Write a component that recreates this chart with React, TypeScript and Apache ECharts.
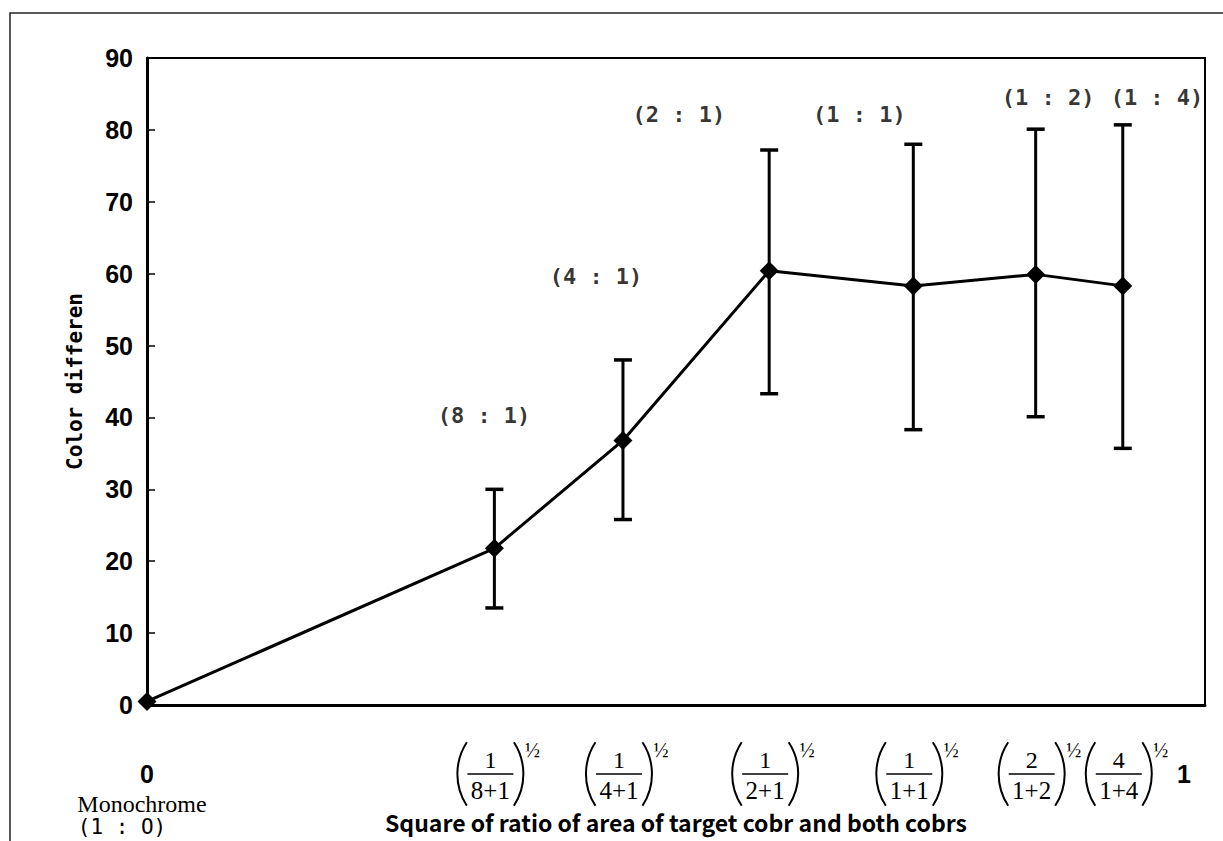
import React, { useEffect, useRef } from "react";
import * as echarts from "echarts";

// x positions (square root of area ratio)
const xValues = [0, 0.335, 0.459, 0.6, 0.739, 0.857, 0.941];
// mean colour difference
const meanValues = [0.5, 21.8, 36.8, 60.4, 58.3, 59.9, 58.3];
// error bar upper / lower ends (first point has none)
const upperValues = [null, 30.0, 48.0, 77.2, 78.0, 80.1, 80.7];
const lowerValues = [null, 13.5, 25.8, 43.3, 38.3, 40.1, 35.7];

// ratio annotations above the points
const ratioLabels = ["(8 : 1)", "(4 : 1)", "(2 : 1)", "(1 : 1)", "(1 : 2)", "(1 : 4)"];
const ratioLabelX = [0.325, 0.433, 0.513, 0.687, 0.869, 0.974];
const ratioLabelY = [40.3, 59.6, 82.1, 82.1, 84.5, 84.5];

// fraction tick labels under the points
const fracNumerators = ["1", "1", "1", "1", "2", "4"];
const fracDenominators = ["8+1", "4+1", "2+1", "1+1", "1+2", "1+4"];
const plainXTicks = [0, 1];
const plainXTickLabels = ["0", "1"];

const yMin = 0;
const yMax = 90;
const yInterval = 10;
const xMax = 1.0203;

const yTitle = "Color differen";
const xTitle = "Square of ratio of area of target cobr and both cobrs";
const monoLabel = "Monochrome";
const monoRatio = "(1 : O)";

export default function App() {
  const ref = useRef<HTMLDivElement>(null);

  useEffect(() => {
    if (!ref.current) return;
    const chart = echarts.init(ref.current, undefined, { renderer: "svg" });

    const lineData = xValues.map((x, i) => [x, meanValues[i]]);
    const errData: number[][] = [];
    xValues.forEach((x, i) => {
      if (upperValues[i] != null && lowerValues[i] != null) {
        errData.push([x, lowerValues[i] as number, upperValues[i] as number]);
      }
    });
    const labelData = ratioLabels.map((t, i) => ({
      name: t,
      value: [ratioLabelX[i], ratioLabelY[i]],
    }));

    const option: any = {
      animation: false,
      backgroundColor: "#fff",
      grid: {
        left: 147,
        right: 18,
        top: 58,
        bottom: 136,
        show: true,
        borderColor: "#000",
        borderWidth: 2,
        outerBoundsMode: "none",
        containLabel: false,
      },
      xAxis: {
        type: "value",
        min: 0,
        max: xMax,
        splitLine: { show: false },
        axisLine: { show: true, lineStyle: { color: "#000", width: 3 } },
        axisTick: { show: false },
        axisLabel: { show: false },
        name: xTitle,
        nameLocation: "middle",
        nameGap: 105,
        nameTextStyle: {
          fontFamily: "Noto Sans CJK JP",
          fontSize: 23,
          fontWeight: "bold",
          color: "#000",
          lineHeight: 24,
        },
      },
      yAxis: {
        type: "value",
        min: yMin,
        max: yMax,
        interval: yInterval,
        splitLine: { show: false },
        axisLine: { show: true, lineStyle: { color: "#000", width: 3 } },
        axisTick: { show: true, inside: true, length: 8, lineStyle: { color: "#000", width: 1.5 } },
        axisLabel: {
          fontFamily: "Liberation Sans",
          fontSize: 25,
          fontWeight: "bold",
          color: "#000",
          margin: 14,
        },
        name: yTitle,
        nameLocation: "middle",
        nameGap: 62,
        nameRotate: 90,
        nameTextStyle: {
          fontFamily: "DejaVu Sans Mono",
          fontSize: 21,
          fontWeight: "bold",
          color: "#000",
        },
      },
      series: [
        {
          type: "custom",
          z: 2,
          data: errData,
          encode: { x: 0, y: [1, 2] },
          renderItem: (params: any, api: any) => {
            const x = api.value(0);
            const lo = api.coord([x, api.value(1)]);
            const hi = api.coord([x, api.value(2)]);
            const w = 9;
            const st = { stroke: "#000", lineWidth: 3 };
            return {
              type: "group",
              children: [
                { type: "line", shape: { x1: lo[0], y1: lo[1], x2: hi[0], y2: hi[1] }, style: st },
                { type: "line", shape: { x1: lo[0] - w, y1: lo[1], x2: lo[0] + w, y2: lo[1] }, style: { stroke: "#000", lineWidth: 3.5 } },
                { type: "line", shape: { x1: hi[0] - w, y1: hi[1], x2: hi[0] + w, y2: hi[1] }, style: { stroke: "#000", lineWidth: 3.5 } },
              ],
            };
          },
        },
        {
          type: "line",
          z: 3,
          data: lineData,
          symbol: "diamond",
          symbolSize: [19, 19],
          lineStyle: { color: "#000", width: 3 },
          itemStyle: { color: "#000" },
          clip: false,
        },
        {
          type: "scatter",
          z: 4,
          data: labelData,
          symbolSize: 0,
          silent: true,
          label: {
            show: true,
            position: "inside",
            formatter: "{b}",
            fontFamily: "DejaVu Sans Mono",
            fontSize: 22,
            fontWeight: "bold",
            color: "#000",
          },
        },
      ],
    };

    chart.setOption(option);

    const graphics: any[] = [];
    // outer frame
    graphics.push({
      type: "polyline",
      shape: { points: [[10, 841], [10, 13], [1223, 13]] },
      style: { stroke: "#222", lineWidth: 1.5, fill: "none" },
      silent: true,
    });

    // plain tick labels 0 and 1
    plainXTicks.forEach((v, i) => {
      const p = chart.convertToPixel({ gridIndex: 0 }, [v, 0]) as number[];
      graphics.push({
        type: "text",
        x: p[0],
        y: p[1] + 69,
        style: {
          text: plainXTickLabels[i],
          fontFamily: "Liberation Sans",
          fontSize: 25,
          fontWeight: "bold",
          fill: "#000",
          align: "center",
          verticalAlign: "middle",
        },
      });
    });

    // fraction tick labels
    fracNumerators.forEach((num, i) => {
      const p = chart.convertToPixel({ gridIndex: 0 }, [xValues[i + 1], 0]) as number[];
      const cx = p[0] - 4;
      const cy = p[1] + 69;
      const R = 58;
      const th = 0.58;
      const half = 33;
      const children: any[] = [
        {
          type: "arc",
          shape: { cx: cx - half + R, cy, r: R, startAngle: Math.PI - th, endAngle: Math.PI + th, clockwise: true },
          style: { stroke: "#000", lineWidth: 2, fill: "none" },
        },
        {
          type: "arc",
          shape: { cx: cx + half - R, cy, r: R, startAngle: -th, endAngle: th, clockwise: true },
          style: { stroke: "#000", lineWidth: 2, fill: "none" },
        },
        {
          type: "line",
          shape: { x1: cx - 23, y1: cy, x2: cx + 23, y2: cy },
          style: { stroke: "#000", lineWidth: 1.6 },
        },
        {
          type: "text",
          x: cx,
          y: cy - 14,
          style: { text: num, fontFamily: "Liberation Serif", fontSize: 24, fill: "#000", align: "center", verticalAlign: "middle" },
        },
        {
          type: "text",
          x: cx,
          y: cy + 16,
          style: { text: fracDenominators[i], fontFamily: "Liberation Serif", fontSize: 25, fill: "#000", align: "center", verticalAlign: "middle" },
        },
        {
          type: "text",
          x: cx + half + 9,
          y: cy - 24,
          style: { text: "½", fontFamily: "Liberation Serif", fontSize: 20, fill: "#000", align: "center", verticalAlign: "middle" },
        },
      ];
      graphics.push({ type: "group", children, silent: true });
    });

    // Monochrome label under the origin
    const p0 = chart.convertToPixel({ gridIndex: 0 }, [0, 0]) as number[];
    graphics.push({
      type: "text",
      x: p0[0] - 5,
      y: p0[1] + 99,
      style: { text: monoLabel, fontFamily: "Liberation Serif", fontSize: 24, fill: "#000", align: "center", verticalAlign: "middle" },
    });
    graphics.push({
      type: "text",
      x: p0[0] - 25,
      y: p0[1] + 122,
      style: { text: monoRatio, fontFamily: "DejaVu Sans Mono", fontSize: 21, fill: "#000", align: "center", verticalAlign: "middle" },
    });

    chart.setOption({ graphic: graphics });

    return () => {
      chart.dispose();
    };
  }, []);

  return (
    <div
      ref={ref}
      style={{ position: "absolute", left: 0, top: 0, width: 1223, height: 841, background: "#fff" }}
    />
  );
}
